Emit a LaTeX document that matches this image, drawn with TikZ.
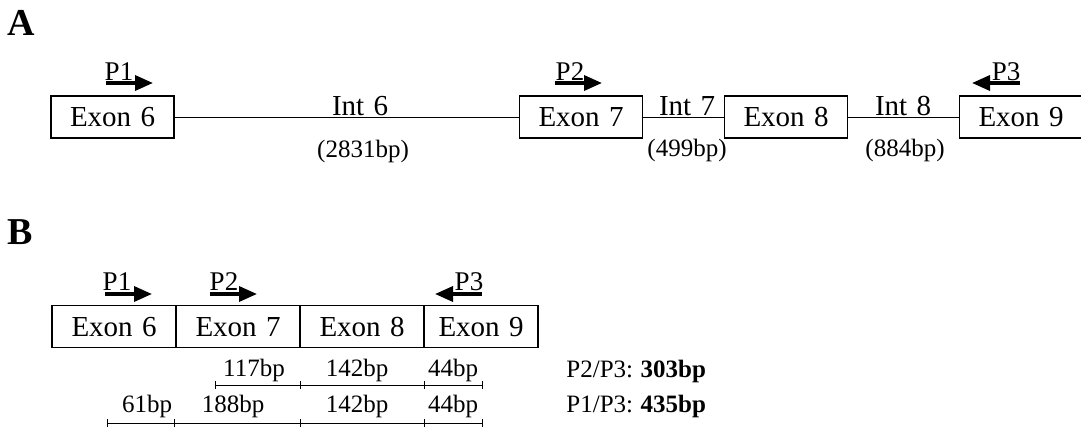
\documentclass[tikz,border=0pt]{standalone}
\usepackage{fontspec}
\setmainfont{Liberation Serif}
\usetikzlibrary{arrows.meta,positioning}

\newcommand{\exonlbl}[1]{Exon\hspace{0.32em}#1}
\newcommand{\intlbl}[1]{Int\hspace{0.32em}#1}

\begin{document}
\begin{tikzpicture}[x=0.5pt, y=-0.5pt,
  exonbox/.style={draw, line width=0.6pt, minimum width=61.5pt, minimum height=21pt,
    text height=9.5pt, text depth=0pt,
    inner sep=0pt, outer sep=0pt, font=\fontsize{14.5}{17}\selectfont},
  intlabel/.style={anchor=base, inner sep=0pt, font=\fontsize{14.5}{17}\selectfont},
  plabel/.style={anchor=base, inner sep=0pt, font=\fontsize{13.5}{16}\selectfont},
  primer/.style={line width=1.7pt, -{Triangle[length=9pt,width=7.5pt]}},
  bplabel/.style={inner sep=0pt, font=\fontsize{12.5}{15}\selectfont},
  totlabel/.style={anchor=base west, inner sep=0pt, font=\fontsize{12.5}{15}\selectfont},
  panel/.style={inner sep=0pt, font=\fontsize{19}{22}\bfseries\selectfont},
  scaleline/.style={line width=0.5pt}]
  \useasboundingbox (0,0) rectangle (1081,428);

  % panel A: genomic region
  \node[panel] (lblA) at (21,23) {A};
  \node[exonbox] (a6) at (112.5,117) {\exonlbl{6}};
  \node[exonbox] (a7) at (581,117) {\exonlbl{7}};
  \node[exonbox] (a8) at (786,117) {\exonlbl{8}};
  \node[exonbox] (a9) at (1021,117) {\exonlbl{9}};

  \draw[line width=0.5pt] (a6) -- (a7);
  \draw[line width=0.5pt] (a7) -- (a8);
  \draw[line width=0.5pt] (a8) -- (a9);

  \node[intlabel] (i6) at (360,115) {\intlbl{6}};
  \node[intlabel] (i7) at (687,115) {\intlbl{7}};
  \node[intlabel] (i8) at (903,115) {\intlbl{8}};
  \node[bplabel] (i6bp) at (363,151) {(2831bp)};
  \node[bplabel] (i7bp) at (687,150) {(499bp)};
  \node[bplabel] (i8bp) at (905,150) {(884bp)};

  % primers on panel A
  \coordinate (pa1s) at (106,83);
  \coordinate (pa1e) at (153,83);
  \coordinate (pa2s) at (555,83);
  \coordinate (pa2e) at (602,83);
  \coordinate (pa3s) at (1020,83);
  \coordinate (pa3e) at (972,83);
  \draw[primer] (pa1s) -- (pa1e);
  \draw[primer] (pa2s) -- (pa2e);
  \draw[primer] (pa3s) -- (pa3e);
  \node[plabel] (pa1) at (119,80) {P1};
  \node[plabel] (pa2) at (570,80) {P2};
  \node[plabel] (pa3) at (1006,80) {P3};

  % panel B: spliced transcript
  \node[panel] (lblB) at (20,232) {B};
  \node[exonbox, minimum width=62pt] (b6) at (114,326.5) {\exonlbl{6}};
  \node[exonbox, minimum width=62pt, right=0pt of b6] (b7) {\exonlbl{7}};
  \node[exonbox, minimum width=62pt, right=0pt of b7] (b8) {\exonlbl{8}};
  \node[exonbox, minimum width=57pt, right=0pt of b8] (b9) {\exonlbl{9}};

  % primers on panel B
  \coordinate (pb1s) at (105,294);
  \coordinate (pb1e) at (152,294);
  \coordinate (pb2s) at (210,294);
  \coordinate (pb2e) at (257,294);
  \coordinate (pb3s) at (482,294);
  \coordinate (pb3e) at (435,294);
  \draw[primer] (pb1s) -- (pb1e);
  \draw[primer] (pb2s) -- (pb2e);
  \draw[primer] (pb3s) -- (pb3e);
  \node[plabel] (pb1) at (117,290) {P1};
  \node[plabel] (pb2) at (224,290) {P2};
  \node[plabel] (pb3) at (469,290) {P3};

  % product sizes
  \coordinate (r1s) at (215,385);
  \coordinate (r1e) at (482,385);
  \coordinate (r2s) at (107,423);
  \coordinate (r2e) at (482,423);
  \draw[scaleline] (r1s) -- (r1e);
  \draw[scaleline] (r2s) -- (r2e);
  \foreach \t in {215,300,424,482}
    \draw[scaleline] (\t,381) -- (\t,389);
  \foreach \t in {107,174,300,424,482}
    \draw[scaleline] (\t,419) -- (\t,427);

  \node[bplabel, anchor=base] (s117) at (254,376) {117bp};
  \node[bplabel, anchor=base] (s142a) at (357,376) {142bp};
  \node[bplabel, anchor=base] (s44a) at (453,376) {44bp};
  \node[bplabel, anchor=base] (s61) at (147,412) {61bp};
  \node[bplabel, anchor=base] (s188) at (233,412) {188bp};
  \node[bplabel, anchor=base] (s142b) at (357,412) {142bp};
  \node[bplabel, anchor=base] (s44b) at (453,412) {44bp};

  \node[totlabel] (tot1) at (566,377) {P2/P3:\hspace{0.3em}\textbf{303bp}};
  \node[totlabel] (tot2) at (566,412) {P1/P3:\hspace{0.3em}\textbf{435bp}};
\end{tikzpicture}
\end{document}
